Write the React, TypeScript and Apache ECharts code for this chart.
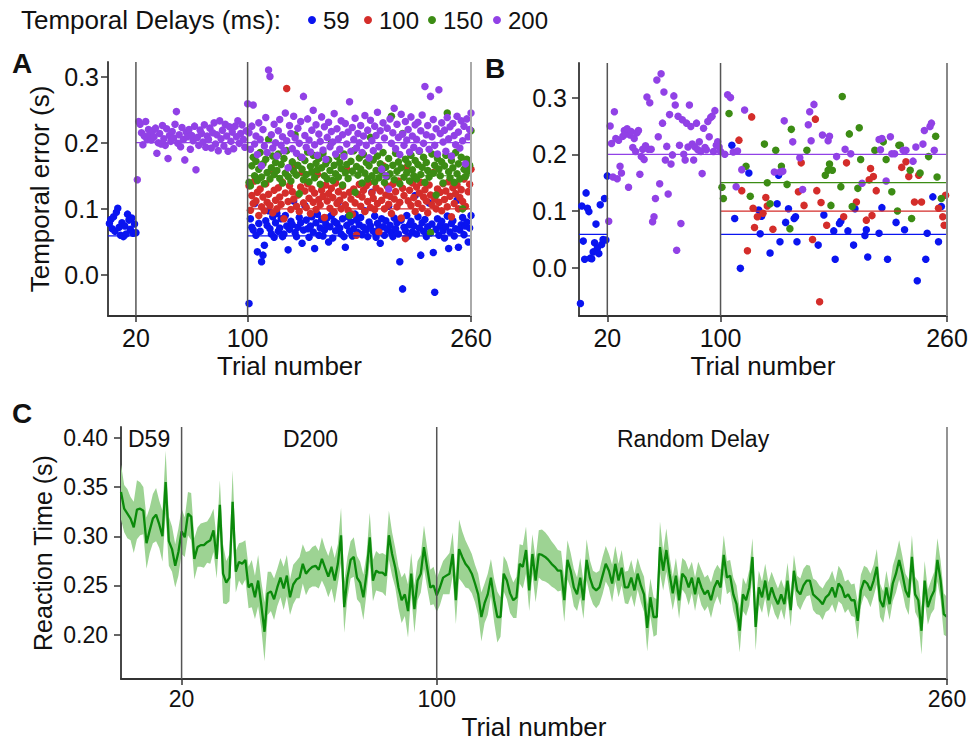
import React, { useEffect, useRef } from "react";
import * as echarts from "echarts";

const FONT = "'Liberation Sans', Arial, Helvetica, sans-serif";
const DELAYS = ["59", "100", "150", "200"];
const COLORS = ["#0a14f0", "#d42d2a", "#3c8c14", "#9141e6"];
const DELAY_S = [0.059, 0.1, 0.15, 0.2];
const X_TICKS = [20, 100, 260];
const AB_Y_TICKS = [0, 0.1, 0.2, 0.3];
const C_Y_TICKS = [0.2, 0.25, 0.3, 0.35, 0.4];
const PHASES = ["D59", "D200", "Random Delay"];

// ---------- Panel A (group averages) ----------
// trials 1-20 (delay 59)
const aBlueEarly = [0.078, 0.084, 0.070, 0.088, 0.066, 0.095, 0.101, 0.072, 0.060, 0.079, 0.058, 0.074, 0.062, 0.092, 0.083, 0.069, 0.086, 0.063, 0.077, 0.064];
// trials 21-100 (delay 200)
const aPurpleMid = [
  0.144, 0.232, 0.228, 0.215, 0.197, 0.210, 0.232, 0.205, 0.220, 0.213, 0.204, 0.218, 0.209, 0.222, 0.184, 0.200, 0.214, 0.198, 0.226, 0.206,
  0.196, 0.221, 0.176, 0.211, 0.202, 0.217, 0.207, 0.228, 0.247, 0.199, 0.212, 0.194, 0.223, 0.205, 0.174, 0.216, 0.209, 0.220, 0.190, 0.211,
  0.203, 0.225, 0.159, 0.208, 0.196, 0.219, 0.214, 0.201, 0.227, 0.193, 0.210, 0.205, 0.222, 0.192, 0.215, 0.230, 0.198, 0.212, 0.188, 0.233,
  0.206, 0.219, 0.195, 0.228, 0.210, 0.187, 0.224, 0.202, 0.216, 0.191, 0.225, 0.209, 0.233, 0.199, 0.214, 0.227, 0.205, 0.193, 0.218, 0.259,
];
// trials 101-260 (random delays)
const aBlueRand = [
  -0.043, 0.085, 0.072, 0.068, 0.108, 0.060, 0.035, 0.078, 0.066, 0.020, 0.030, 0.045, 0.082, 0.075, 0.097, 0.070, 0.062, 0.088, 0.057, 0.079,
  0.093, 0.066, 0.071, 0.085, 0.058, 0.062, 0.090, 0.074, 0.038, 0.069, 0.081, 0.076, 0.112, 0.064, 0.058, 0.072, 0.087, 0.079, 0.048, 0.068,
  0.105, 0.083, 0.070, 0.057, 0.074, 0.088, 0.065, 0.040, 0.079, 0.092, 0.060, 0.071, 0.084, 0.059, 0.068, 0.077, 0.086, 0.050, 0.073, 0.090,
  0.056, 0.081, 0.067, 0.078, 0.110, 0.071, 0.062, 0.085, 0.058, 0.042, 0.075, 0.088, 0.066, 0.080, 0.059, 0.070, 0.092, 0.083, 0.064, 0.076,
  0.087, 0.061, 0.072, 0.097, 0.068, 0.058, 0.080, 0.074, 0.125, 0.066, 0.089, 0.057, 0.078, 0.070, 0.048, 0.085, 0.073, 0.060, 0.082, 0.069,
  0.104, 0.075, 0.064, 0.058, 0.086, 0.070, 0.079, 0.062, 0.020, 0.083, -0.021, 0.072, 0.067, 0.090, 0.059, 0.076, 0.081, 0.065, 0.074, 0.120,
  0.062, 0.088, 0.071, 0.030, 0.079, 0.066, 0.084, 0.058, 0.073, 0.109, 0.064, 0.077, 0.034, -0.026, 0.069, 0.085, 0.060, 0.075, 0.081, 0.067,
  0.056, 0.073, 0.089, 0.040, 0.065, 0.078, 0.082, 0.059, 0.070, 0.113, 0.042, 0.068, 0.076, 0.087, 0.061, 0.074, 0.080, 0.050, 0.071, 0.090,
];
const aRedRand = [
  0.135, 0.098, 0.120, 0.108, 0.142, 0.112, 0.125, 0.090, 0.130, 0.103, 0.118, 0.097, 0.138, 0.110, 0.122, 0.105, 0.158, 0.094, 0.128, 0.113,
  0.100, 0.132, 0.118, 0.107, 0.140, 0.085, 0.124, 0.282, 0.111, 0.135, 0.099, 0.126, 0.115, 0.166, 0.104, 0.121, 0.096, 0.133, 0.155, 0.109,
  0.127, 0.102, 0.138, 0.116, 0.093, 0.130, 0.110, 0.124, 0.099, 0.152, 0.114, 0.106, 0.128, 0.119, 0.087, 0.136, 0.112, 0.123, 0.101, 0.131,
  0.117, 0.095, 0.139, 0.108, 0.126, 0.113, 0.100, 0.134, 0.121, 0.106, 0.160, 0.098, 0.125, 0.115, 0.092, 0.130, 0.109, 0.060, 0.122, 0.137,
  0.104, 0.118, 0.128, 0.096, 0.135, 0.111, 0.140, 0.102, 0.124, 0.116, 0.099, 0.132, 0.108, 0.065, 0.127, 0.113, 0.165, 0.100, 0.121, 0.134,
  0.107, 0.119, 0.093, 0.137, 0.115, 0.126, 0.103, 0.142, 0.110, 0.086, 0.131, 0.120, 0.055, 0.163, 0.112, 0.128, 0.105, 0.139, 0.117, 0.096,
  0.133, 0.108, 0.124, 0.140, 0.101, 0.118, 0.129, 0.112, 0.094, 0.136, 0.121, 0.106, 0.155, 0.115, 0.100, 0.130, 0.110, 0.125, 0.097, 0.138,
  0.114, 0.127, 0.103, 0.141, 0.119, 0.088, 0.132, 0.108, 0.123, 0.136, 0.100, 0.117, 0.129, 0.111, 0.145, 0.104, 0.170, 0.126, 0.137, 0.160,
];
const aGreenRand = [
  0.140, 0.135, 0.165, 0.178, 0.150, 0.172, 0.143, 0.160, 0.185, 0.148, 0.168, 0.138, 0.175, 0.155, 0.205, 0.145, 0.162, 0.180, 0.152, 0.170,
  0.158, 0.183, 0.146, 0.167, 0.139, 0.176, 0.154, 0.188, 0.149, 0.163, 0.142, 0.171, 0.157, 0.212, 0.151, 0.166, 0.123, 0.178, 0.160, 0.144,
  0.173, 0.152, 0.186, 0.141, 0.164, 0.156, 0.181, 0.147, 0.169, 0.159, 0.176, 0.137, 0.162, 0.184, 0.150, 0.168, 0.145, 0.174, 0.158, 0.200,
  0.143, 0.166, 0.153, 0.179, 0.148, 0.170, 0.161, 0.136, 0.183, 0.155, 0.167, 0.146, 0.090, 0.172, 0.157, 0.188, 0.125, 0.164, 0.151, 0.177,
  0.160, 0.139, 0.182, 0.154, 0.170, 0.145, 0.165, 0.208, 0.150, 0.174, 0.141, 0.158, 0.180, 0.147, 0.168, 0.156, 0.185, 0.140, 0.163, 0.149,
  0.176, 0.153, 0.240, 0.166, 0.144, 0.184, 0.157, 0.171, 0.138, 0.162, 0.214, 0.148, 0.175, 0.155, 0.168, 0.142, 0.181, 0.159, 0.150, 0.173,
  0.145, 0.167, 0.187, 0.152, 0.163, 0.178, 0.140, 0.170, 0.158, 0.148, 0.064, 0.183, 0.154, 0.166, 0.121, 0.176, 0.160, 0.150, 0.171, 0.139,
  0.165, 0.181, 0.245, 0.156, 0.147, 0.173, 0.162, 0.140, 0.185, 0.153, 0.168, 0.145, 0.178, 0.100, 0.160, 0.149, 0.175, 0.157, 0.166, 0.218,
];
const aPurpleRand = [
  0.215, 0.190, 0.225, 0.257, 0.198, 0.210, 0.182, 0.230, 0.205, 0.165, 0.220, 0.195, 0.238, 0.185, 0.310, 0.300, 0.212, 0.192, 0.228, 0.200,
  0.180, 0.218, 0.235, 0.196, 0.209, 0.188, 0.245, 0.203, 0.162, 0.226, 0.214, 0.191, 0.240, 0.207, 0.184, 0.222, 0.199, 0.232, 0.178, 0.270,
  0.211, 0.193, 0.236, 0.204, 0.186, 0.219, 0.249, 0.197, 0.227, 0.181, 0.213, 0.202, 0.239, 0.189, 0.224, 0.175, 0.208, 0.231, 0.194, 0.217,
  0.201, 0.244, 0.183, 0.221, 0.206, 0.190, 0.233, 0.212, 0.179, 0.229, 0.198, 0.216, 0.262, 0.187, 0.223, 0.205, 0.237, 0.192, 0.214, 0.200,
  0.226, 0.185, 0.210, 0.241, 0.196, 0.219, 0.177, 0.234, 0.203, 0.188, 0.225, 0.211, 0.246, 0.194, 0.218, 0.160, 0.230, 0.207, 0.150, 0.222,
  0.130, 0.236, 0.199, 0.215, 0.252, 0.191, 0.228, 0.208, 0.182, 0.243, 0.213, 0.196, 0.232, 0.204, 0.220, 0.186, 0.239, 0.210, 0.193, 0.227,
  0.205, 0.231, 0.188, 0.218, 0.242, 0.199, 0.285, 0.212, 0.226, 0.190, 0.270, 0.209, 0.235, 0.196, 0.221, 0.183, 0.280, 0.214, 0.230, 0.201,
  0.219, 0.187, 0.238, 0.206, 0.224, 0.180, 0.229, 0.211, 0.197, 0.240, 0.216, 0.192, 0.233, 0.203, 0.225, 0.168, 0.236, 0.209, 0.220, 0.245,
];

// ---------- Panel B (single participant) ----------
const bBlueEarly = [-0.063, 0.109, 0.047, 0.015, 0.132, 0.105, 0.099, 0.017, 0.016, 0.028, 0.044, 0.077, 0.035, 0.025, 0.111, 0.041, 0.050, 0.122, 0.049, 0.162];
const bPurpleMid = [
  0.082, 0.250, 0.219, 0.160, 0.275, 0.228, 0.157, 0.225, 0.179, 0.167, 0.232, 0.242, 0.236, 0.245, 0.142, 0.234, 0.240, 0.212, 0.228, 0.205,
  0.238, 0.242, 0.165, 0.196, 0.209, 0.191, 0.215, 0.301, 0.209, 0.291, 0.209, 0.081, 0.090, 0.122, 0.331, 0.231, 0.148, 0.342, 0.255, 0.310,
  0.190, 0.214, 0.130, 0.270, 0.183, 0.199, 0.303, 0.287, 0.031, 0.267, 0.216, 0.078, 0.261, 0.200, 0.190, 0.255, 0.213, 0.287, 0.249, 0.218,
  0.190, 0.213, 0.255, 0.208, 0.222, 0.205, 0.166, 0.246, 0.212, 0.208, 0.258, 0.231, 0.265, 0.267, 0.205, 0.277, 0.216, 0.222, 0.213, 0.205,
];
// [trial, error] for trials 101-260
const bBlueRand = [
  [108, 0.216], [110, 0.087], [114, -0.001], [120, 0.167], [127, 0.102], [128, 0.060], [129, 0.091], [135, 0.026], [140, 0.113], [141, 0.163],
  [142, 0.046], [146, 0.080], [148, 0.104], [152, 0.087], [153, 0.090], [154, 0.046], [169, 0.040], [173, 0.093], [180, 0.065], [181, 0.015],
  [184, 0.078], [185, 0.082], [190, 0.065], [194, 0.040], [195, 0.104], [202, 0.057], [203, 0.067], [204, 0.019], [212, 0.061], [214, 0.106],
  [218, 0.015], [224, 0.080], [230, 0.067], [239, -0.023], [245, 0.015], [246, 0.061], [250, 0.125], [254, 0.046], [256, 0.108],
];
const bRedRand = [
  [113, 0.225], [115, 0.136], [119, 0.030], [122, 0.266], [123, 0.105], [124, 0.071], [126, 0.090], [130, 0.096], [132, 0.124], [133, 0.109],
  [137, 0.068], [155, 0.134], [157, 0.185], [159, 0.110], [165, 0.050], [167, 0.262], [168, 0.136], [170, -0.060], [171, 0.115], [175, 0.075],
  [187, 0.090], [189, 0.185], [196, 0.116], [203, 0.084], [205, 0.155], [206, 0.175], [207, 0.092], [208, 0.161], [210, 0.136], [228, 0.177],
  [231, 0.187], [233, 0.161], [237, 0.116], [240, 0.163], [242, 0.116], [254, 0.105], [257, 0.090], [258, 0.075], [259, 0.128],
];
const bGreenRand = [
  [101, 0.142], [102, 0.122], [106, 0.272], [118, 0.179], [121, 0.126], [131, 0.218], [133, 0.150], [135, 0.113], [139, 0.207], [143, 0.179],
  [147, 0.147], [149, 0.069], [150, 0.244], [161, 0.207], [174, 0.163], [176, 0.172], [177, 0.183], [178, 0.110], [179, 0.172], [185, 0.143],
  [186, 0.302], [191, 0.236], [193, 0.108], [197, 0.140], [198, 0.247], [199, 0.191], [209, 0.207], [215, 0.222], [217, 0.191], [221, 0.134],
  [225, 0.100], [226, 0.216], [227, 0.216], [234, 0.172], [235, 0.087], [241, 0.167], [247, 0.196], [252, 0.232], [253, 0.160], [256, 0.122],
];
const bPurpleRand = [
  [103, 0.200], [105, 0.305], [107, 0.300], [109, 0.204], [111, 0.143], [112, 0.206], [115, 0.173], [117, 0.278], [138, 0.169], [142, 0.169],
  [144, 0.170], [145, 0.259], [151, 0.222], [156, 0.194], [158, 0.138], [162, 0.252], [163, 0.275], [164, 0.224], [166, 0.288], [172, 0.234],
  [176, 0.224], [177, 0.232], [182, 0.196], [188, 0.209], [192, 0.201], [200, 0.149], [212, 0.226], [213, 0.208], [214, 0.228], [217, 0.153],
  [220, 0.231], [221, 0.201], [223, 0.201], [229, 0.207], [231, 0.207], [236, 0.188], [238, 0.213], [243, 0.218], [244, 0.242], [248, 0.249],
  [249, 0.255], [251, 0.207],
];

// ---------- Panel C (reaction time, trials 1-260) ----------
const rtMean = [
  0.345, 0.328, 0.323, 0.318, 0.309, 0.327, 0.328, 0.326, 0.293, 0.306, 0.318, 0.322, 0.312, 0.300, 0.355, 0.295, 0.287, 0.270, 0.284, 0.305,
  0.299, 0.323, 0.320, 0.277, 0.289, 0.291, 0.291, 0.294, 0.296, 0.306, 0.277, 0.332, 0.262, 0.253, 0.258, 0.335, 0.264, 0.274, 0.272, 0.276,
  0.248, 0.252, 0.238, 0.255, 0.230, 0.203, 0.242, 0.244, 0.236, 0.248, 0.258, 0.247, 0.260, 0.238, 0.251, 0.256, 0.258, 0.272, 0.262, 0.266,
  0.269, 0.270, 0.266, 0.277, 0.268, 0.259, 0.269, 0.255, 0.272, 0.301, 0.228, 0.258, 0.276, 0.279, 0.258, 0.253, 0.238, 0.262, 0.299, 0.255,
  0.265, 0.263, 0.263, 0.260, 0.301, 0.282, 0.268, 0.248, 0.235, 0.241, 0.224, 0.262, 0.226, 0.255, 0.262, 0.289, 0.268, 0.248, 0.250, 0.240,
  0.248, 0.258, 0.260, 0.262, 0.282, 0.235, 0.287, 0.279, 0.272, 0.268, 0.262, 0.252, 0.241, 0.218, 0.232, 0.241, 0.258, 0.235, 0.218, 0.218,
  0.262, 0.255, 0.242, 0.235, 0.238, 0.272, 0.269, 0.286, 0.245, 0.282, 0.255, 0.282, 0.281, 0.279, 0.276, 0.272, 0.269, 0.265, 0.265, 0.235,
  0.276, 0.265, 0.248, 0.241, 0.258, 0.235, 0.276, 0.258, 0.248, 0.245, 0.248, 0.260, 0.272, 0.265, 0.252, 0.272, 0.255, 0.268, 0.248, 0.248,
  0.258, 0.245, 0.262, 0.250, 0.241, 0.207, 0.238, 0.218, 0.218, 0.289, 0.265, 0.286, 0.262, 0.242, 0.260, 0.235, 0.262, 0.258, 0.248, 0.258,
  0.241, 0.258, 0.248, 0.241, 0.245, 0.235, 0.248, 0.255, 0.248, 0.281, 0.258, 0.260, 0.241, 0.231, 0.204, 0.241, 0.235, 0.248, 0.279, 0.208,
  0.248, 0.238, 0.255, 0.235, 0.248, 0.238, 0.231, 0.241, 0.231, 0.255, 0.225, 0.265, 0.245, 0.241, 0.250, 0.255, 0.255, 0.241, 0.238, 0.235,
  0.231, 0.238, 0.241, 0.248, 0.238, 0.252, 0.248, 0.238, 0.241, 0.235, 0.235, 0.214, 0.245, 0.255, 0.252, 0.245, 0.255, 0.269, 0.235, 0.228,
  0.248, 0.231, 0.252, 0.262, 0.276, 0.262, 0.245, 0.238, 0.279, 0.241, 0.235, 0.204, 0.255, 0.228, 0.238, 0.245, 0.276, 0.255, 0.221, 0.218,
];
const rtSem = [
  0.028, 0.024, 0.025, 0.022, 0.026, 0.030, 0.027, 0.024, 0.026, 0.023, 0.025, 0.027, 0.024, 0.026, 0.032, 0.025, 0.023, 0.022, 0.024, 0.023,
  0.020, 0.022, 0.024, 0.021, 0.020, 0.022, 0.023, 0.021, 0.024, 0.022, 0.020, 0.025, 0.030, 0.022, 0.024, 0.032, 0.021, 0.019, 0.022, 0.020,
  0.021, 0.024, 0.022, 0.026, 0.024, 0.030, 0.022, 0.020, 0.021, 0.019, 0.020, 0.022, 0.021, 0.018, 0.020, 0.019, 0.021, 0.020, 0.022, 0.019,
  0.020, 0.021, 0.019, 0.022, 0.020, 0.021, 0.022, 0.023, 0.020, 0.028, 0.026, 0.021, 0.019, 0.020, 0.022, 0.021, 0.023, 0.020, 0.025, 0.021,
  0.020, 0.019, 0.020, 0.021, 0.025, 0.022, 0.020, 0.021, 0.023, 0.022, 0.027, 0.021, 0.024, 0.020, 0.019, 0.022, 0.020, 0.018, 0.019, 0.017,
  0.018, 0.017, 0.019, 0.021, 0.022, 0.024, 0.030, 0.026, 0.024, 0.021, 0.020, 0.019, 0.021, 0.025, 0.020, 0.021, 0.019, 0.022, 0.026, 0.020,
  0.018, 0.019, 0.020, 0.018, 0.021, 0.020, 0.022, 0.024, 0.021, 0.020, 0.022, 0.024, 0.026, 0.025, 0.024, 0.023, 0.022, 0.021, 0.020, 0.022,
  0.020, 0.018, 0.019, 0.017, 0.020, 0.019, 0.021, 0.018, 0.017, 0.018, 0.017, 0.019, 0.018, 0.017, 0.019, 0.018, 0.017, 0.018, 0.016, 0.017,
  0.018, 0.017, 0.016, 0.017, 0.018, 0.024, 0.019, 0.020, 0.018, 0.026, 0.020, 0.022, 0.018, 0.017, 0.018, 0.019, 0.016, 0.017, 0.018, 0.016,
  0.017, 0.016, 0.018, 0.017, 0.016, 0.018, 0.017, 0.016, 0.018, 0.020, 0.017, 0.016, 0.017, 0.019, 0.022, 0.017, 0.016, 0.018, 0.019, 0.024,
  0.017, 0.016, 0.017, 0.018, 0.016, 0.017, 0.016, 0.015, 0.016, 0.018, 0.017, 0.016, 0.015, 0.016, 0.017, 0.016, 0.015, 0.016, 0.017, 0.015,
  0.016, 0.015, 0.016, 0.017, 0.016, 0.018, 0.017, 0.016, 0.015, 0.016, 0.017, 0.019, 0.016, 0.015, 0.016, 0.017, 0.016, 0.018, 0.017, 0.016,
  0.017, 0.016, 0.018, 0.019, 0.020, 0.018, 0.017, 0.018, 0.022, 0.018, 0.019, 0.024, 0.020, 0.018, 0.017, 0.019, 0.022, 0.020, 0.021, 0.020,
];

const A_Y = { min: -0.062, max: 0.322 };
const B_Y = { min: -0.085, max: 0.361 };
const C_Y = { min: 0.155, max: 0.411 };

const withTrials = (vals: number[], first: number) => vals.map((v, i) => [first + i, v]);

function xAxisCfg(gridIndex: number, min: number, labelSize: number, labelMargin: number, nameGap: number) {
  return {
    type: "value",
    gridIndex,
    min,
    max: 260,
    name: "Trial number",
    nameLocation: "middle",
    nameGap,
    nameMoveOverlap: false,
    nameTextStyle: { fontSize: 26, lineHeight: 22, color: "#111", fontFamily: FONT },
    axisLine: { show: true, onZero: false, lineStyle: { color: "#333", width: 1.8 } },
    axisTick: { show: true, length: 6, customValues: X_TICKS, lineStyle: { color: "#333", width: 1.5 } },
    axisLabel: { customValues: X_TICKS, fontSize: labelSize, lineHeight: 18, margin: labelMargin, color: "#111", fontFamily: FONT },
    splitLine: { show: false },
  };
}

function yAxisCfg(gridIndex: number, range: { min: number; max: number }, ticks: number[], digits: number, labelSize: number, labelMargin: number, name: string, nameGap: number, nameSize: number) {
  return {
    type: "value",
    gridIndex,
    min: range.min,
    max: range.max,
    name,
    nameLocation: "middle",
    nameGap,
    nameRotate: 90,
    nameMoveOverlap: false,
    nameTextStyle: { fontSize: nameSize, color: "#111", fontFamily: FONT },
    axisLine: { show: true, onZero: false, lineStyle: { color: "#333", width: 1.8 } },
    axisTick: { show: true, length: 7, customValues: ticks, lineStyle: { color: "#333", width: 1.5 } },
    axisLabel: {
      customValues: ticks,
      fontSize: labelSize,
      margin: labelMargin,
      color: "#111",
      fontFamily: FONT,
      formatter: (v: number) => v.toFixed(digits),
    },
    splitLine: { show: false },
  };
}

function seg(axis: number, x0: number, x1: number, y0: number, y1: number, color: string, width: number, z = 4) {
  return {
    type: "line",
    xAxisIndex: axis,
    yAxisIndex: axis,
    data: [[x0, y0], [x1, y1]],
    symbol: "none",
    silent: true,
    z,
    lineStyle: { color, width },
  };
}

function scatter(axis: number, name: string, color: string, data: number[][]) {
  return {
    type: "scatter",
    name,
    xAxisIndex: axis,
    yAxisIndex: axis,
    data,
    symbol: "circle",
    symbolSize: 7.5,
    itemStyle: { color, opacity: 1 },
    z: 2,
  };
}

function refLines(axis: number, range: { min: number; max: number }, endColor: string) {
  const out: any[] = [];
  out.push(seg(axis, 20, 20, range.min, range.max, "#555", 1.5, 5));
  out.push(seg(axis, 100, 100, range.min, range.max, "#555", 1.5, 5));
  out.push(seg(axis, 260, 260, range.min, range.max, endColor, 2, 5));
  out.push(seg(axis, 0, 20, DELAY_S[0], DELAY_S[0], COLORS[0], 1.2));
  out.push(seg(axis, 20, 100, DELAY_S[3], DELAY_S[3], COLORS[3], 1.2));
  DELAY_S.forEach((d, i) => out.push(seg(axis, 100, 260, d, d, COLORS[i], 1.2)));
  return out;
}

export default function App() {
  const ref = useRef<HTMLDivElement>(null);

  useEffect(() => {
    document.body.style.margin = "0";
    if (!ref.current) return;
    const chart = echarts.init(ref.current, null, { renderer: "svg" });

    const aData = [
      withTrials(aBlueEarly, 1).concat(withTrials(aBlueRand, 101)),
      withTrials(aRedRand, 101),
      withTrials(aGreenRand, 101),
      withTrials(aPurpleMid, 21).concat(withTrials(aPurpleRand, 101)),
    ];
    const bData = [
      withTrials(bBlueEarly, 1).concat(bBlueRand),
      bRedRand,
      bGreenRand,
      withTrials(bPurpleMid, 21).concat(bPurpleRand),
    ];

    const band = rtMean.map((m, i) => [i + 1, m - rtSem[i], m + rtSem[i]]);
    const mean = rtMean.map((m, i) => [i + 1, m]);

    const series: any[] = [];
    DELAYS.forEach((d, i) => series.push(scatter(0, d, COLORS[i], aData[i])));
    series.push(...refLines(0, A_Y, "#aaa"));
    DELAYS.forEach((d, i) => series.push(scatter(1, d, COLORS[i], bData[i])));
    series.push(...refLines(1, B_Y, "#888"));

    series.push({
      type: "custom",
      name: "RT band",
      xAxisIndex: 2,
      yAxisIndex: 2,
      data: band,
      encode: { x: 0, y: [1, 2] },
      silent: true,
      z: 1,
      renderItem: (params: any, api: any) => {
        if (params.dataIndex !== 0) return null;
        const pts: number[][] = [];
        for (let i = 0; i < band.length; i++) pts.push(api.coord([band[i][0], band[i][2]]));
        for (let i = band.length - 1; i >= 0; i--) pts.push(api.coord([band[i][0], band[i][1]]));
        return { type: "polygon", shape: { points: pts }, style: { fill: "#9dd393", stroke: "none" } };
      },
    });
    series.push({
      type: "line", name: "Reaction time", xAxisIndex: 2, yAxisIndex: 2, data: mean,
      symbol: "none", silent: true, lineStyle: { color: "#0b8a0b", width: 2.3 }, z: 3,
    });
    series.push(seg(2, 20, 20, C_Y.min, C_Y.max, "#555", 1.5, 5));
    series.push(seg(2, 100, 100, C_Y.min, C_Y.max, "#555", 1.5, 5));
    series.push(seg(2, 260, 260, C_Y.min, C_Y.max, "#888", 1.8, 5));

    const txt = (text: string, x: number, y: number, size: number, opts: any = {}) => ({
      type: "text",
      x,
      y,
      z: 100,
      silent: true,
      style: {
        text,
        fontSize: size,
        fontFamily: FONT,
        fill: "#111",
        fontWeight: opts.bold ? "bold" : "normal",
        align: opts.align || "left",
        textAlign: opts.align || "left",
        verticalAlign: "middle",
        textVerticalAlign: "middle",
      },
    });

    const legendX = [312, 368, 432, 497];
    const graphic: any[] = [txt("Temporal Delays (ms):", 21, 20, 26)];
    DELAYS.forEach((d, i) => {
      graphic.push({
        type: "circle",
        x: legendX[i],
        y: 20,
        z: 100,
        shape: { cx: 0, cy: 0, r: 4 },
        style: { fill: COLORS[i] },
        silent: true,
      });
      graphic.push(txt(d, legendX[i] + 11, 20, 24));
    });
    graphic.push(txt("A", 12, 63, 28, { bold: true }));
    graphic.push(txt("B", 485, 68, 28, { bold: true }));
    graphic.push(txt("C", 12, 413, 28, { bold: true }));
    const phaseX = [128, 283, 617];
    PHASES.forEach((p, i) => graphic.push(txt(p, phaseX[i], 439, 23)));

    chart.setOption({
      animation: false,
      backgroundColor: "#fff",
      textStyle: { fontFamily: FONT },
      grid: [
        { left: 108, top: 62, width: 363, height: 254, outerBoundsMode: "none", containLabel: false },
        { left: 579, top: 63, width: 368, height: 253, outerBoundsMode: "none", containLabel: false },
        { left: 121, top: 427, width: 826, height: 252, outerBoundsMode: "none", containLabel: false },
      ],
      xAxis: [xAxisCfg(0, 0, 25, 13, 39), xAxisCfg(1, 0, 25, 13, 39), xAxisCfg(2, 1, 23, 11, 37)],
      yAxis: [
        yAxisCfg(0, A_Y, AB_Y_TICKS, 1, 25, 9, "Temporal error (s)", 55, 26),
        yAxisCfg(1, B_Y, AB_Y_TICKS, 1, 25, 12, "", 50, 26),
        yAxisCfg(2, C_Y, C_Y_TICKS, 2, 23, 13, "Reaction Time (s)", 66, 25),
      ],
      graphic,
      series,
    });

    return () => chart.dispose();
  }, []);

  return <div ref={ref} style={{ width: 979, height: 743 }} />;
}
